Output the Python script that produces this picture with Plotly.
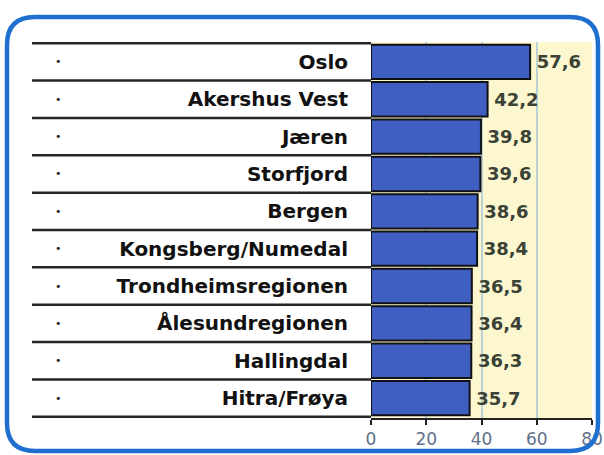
import plotly.graph_objects as go

categories = ["Oslo", "Akershus Vest", "Jæren", "Storfjord", "Bergen",
              "Kongsberg/Numedal", "Trondheimsregionen", "Ålesundregionen",
              "Hallingdal", "Hitra/Frøya"]
values = [57.6, 42.2, 39.8, 39.6, 38.6, 38.4, 36.5, 36.4, 36.3, 35.7]
value_labels = ["57,6", "42,2", "39,8", "39,6", "38,6", "38,4", "36,5", "36,4", "36,3", "35,7"]
tick_values = [0, 20, 40, 60, 80]
tick_labels = ["0", "20", "40", "60", "80"]

fig = go.Figure()
fig.add_trace(go.Bar(
    x=values, y=categories, orientation="h",
    marker=dict(color="#3f5fc2", line=dict(color="#111111", width=2)),
    text=value_labels, texttemplate="\u2009%{text}",
    textposition="outside", constraintext="none",
    cliponaxis=False,
    textfont=dict(family="DejaVu Sans", size=18, color="#3a4236", weight="bold"),
    width=0.92,
))

shapes = []
# table row separators (left of the plot area)
for i in range(len(categories) + 1):
    shapes.append(dict(
        type="line", xref="paper", xsizemode="pixel", xanchor=0,
        x0=-339, x1=0, yref="y", y0=i - 0.5, y1=i - 0.5,
        line=dict(color="#262626", width=2.5), layer="above"))

# rounded blue frame
x0, x1, yT, yB, r = -364, 227, 401, -33, 28
path = (f"M {x0+r},{yT} L {x1-r},{yT} Q {x1},{yT} {x1},{yT-r} "
        f"L {x1},{yB+r} Q {x1},{yB} {x1-r},{yB} L {x0+r},{yB} "
        f"Q {x0},{yB} {x0},{yB+r} L {x0},{yT-r} Q {x0},{yT} {x0+r},{yT} Z")
shapes.append(dict(
    type="path", xref="paper", yref="paper",
    xsizemode="pixel", ysizemode="pixel", xanchor=0, yanchor=0,
    path=path, line=dict(color="#1f6fd0", width=4.5), layer="above"))

annotations = []
for c in categories:
    annotations.append(dict(
        text="•", xref="paper", x=0, xshift=-313, xanchor="center",
        yref="y", y=c, showarrow=False,
        font=dict(family="DejaVu Sans", size=11, color="#222222")))

fig.update_layout(
    width=604, height=455, autosize=False,
    margin=dict(l=371, r=12, t=42, b=37),
    paper_bgcolor="white", plot_bgcolor="#fdf7cf",
    showlegend=False, bargap=0.08,
    shapes=shapes, annotations=annotations,
    xaxis=dict(range=[0, 80], tickvals=tick_values, ticktext=tick_labels,
               ticks="outside", ticklen=5, tickwidth=2, tickcolor="#222222",
               showline=True, linecolor="#222222", linewidth=2,
               showgrid=True, gridcolor="#bcd3d6", gridwidth=1.5,
               zeroline=False, fixedrange=True, automargin=False,
               tickfont=dict(family="DejaVu Sans", size=17, color="#5f6f88")),
    yaxis=dict(autorange="reversed", showgrid=False, zeroline=False,
               showline=False, ticks="", ticklabelstandoff=22, fixedrange=True,
               automargin=False,
               tickfont=dict(family="DejaVu Sans", size=20, color="#111111",
                             weight="bold")),
)

fig.write_html("out.html",
               config=dict(displayModeBar=False, responsive=False),
               post_script="document.body.style.margin='0';document.body.style.overflow='hidden';")
